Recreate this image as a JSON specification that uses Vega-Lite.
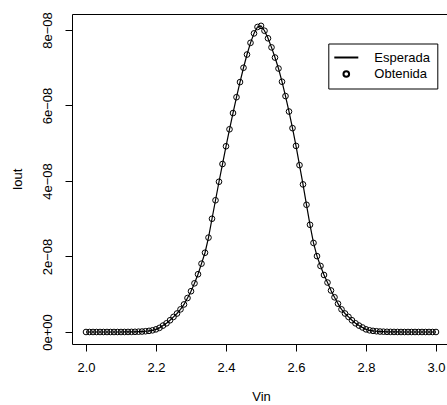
{
  "$schema": "https://vega.github.io/schema/vega-lite/v6.json",
  "width": 375,
  "height": 330,
  "autosize": "none",
  "padding": {"left": 72, "top": 14, "right": 0, "bottom": 61},
  "background": "white",
  "config": {
    "view": {"stroke": null},
    "font": "Liberation Sans",
    "axis": {
      "grid": false,
      "domainColor": "black",
      "domainWidth": 1,
      "tickColor": "black",
      "tickWidth": 1,
      "tickSize": 7,
      "labelColor": "black",
      "labelFont": "Liberation Sans",
      "labelFontSize": 13,
      "titleFont": "Liberation Sans",
      "titleFontSize": 13,
      "titleFontWeight": "normal",
      "titleColor": "black"
    },
    "legend": {
      "orient": "none",
      "legendX": 256.3,
      "legendY": 29.5,
      "strokeColor": "black",
      "fillColor": "white",
      "padding": 7,
      "labelFont": "Liberation Sans",
      "labelFontSize": 13,
      "labelColor": "black",
      "labelOffset": 21,
      "rowPadding": 2,
      "symbolOffset": 4,
      "symbolStrokeColor": "black",
      "symbolStrokeWidth": 2,
      "symbolFillColor": "transparent",
      "title": null
    }
  },
  "data": {
    "values": [
      {"Vin": 2.00, "Iout": 0}, {"Vin": 2.01, "Iout": 0}, {"Vin": 2.02, "Iout": 0}, {"Vin": 2.03, "Iout": 0},
      {"Vin": 2.04, "Iout": 0}, {"Vin": 2.05, "Iout": 0}, {"Vin": 2.06, "Iout": 0}, {"Vin": 2.07, "Iout": 0},
      {"Vin": 2.08, "Iout": 0}, {"Vin": 2.09, "Iout": 0}, {"Vin": 2.10, "Iout": 0}, {"Vin": 2.11, "Iout": 1e-11},
      {"Vin": 2.12, "Iout": 2e-11}, {"Vin": 2.13, "Iout": 3e-11}, {"Vin": 2.14, "Iout": 5e-11}, {"Vin": 2.15, "Iout": 8e-11},
      {"Vin": 2.16, "Iout": 1.2e-10}, {"Vin": 2.17, "Iout": 2e-10}, {"Vin": 2.18, "Iout": 3e-10}, {"Vin": 2.19, "Iout": 4.5e-10},
      {"Vin": 2.20, "Iout": 7e-10}, {"Vin": 2.21, "Iout": 1.1e-9}, {"Vin": 2.22, "Iout": 1.7e-9}, {"Vin": 2.23, "Iout": 2.3e-9},
      {"Vin": 2.24, "Iout": 3.1e-9}, {"Vin": 2.25, "Iout": 4.0e-9}, {"Vin": 2.26, "Iout": 4.9e-9}, {"Vin": 2.27, "Iout": 6.0e-9},
      {"Vin": 2.28, "Iout": 7.3e-9}, {"Vin": 2.29, "Iout": 9.0e-9}, {"Vin": 2.30, "Iout": 1.08e-8}, {"Vin": 2.31, "Iout": 1.29e-8},
      {"Vin": 2.32, "Iout": 1.53e-8}, {"Vin": 2.33, "Iout": 1.81e-8}, {"Vin": 2.34, "Iout": 2.10e-8}, {"Vin": 2.35, "Iout": 2.50e-8},
      {"Vin": 2.36, "Iout": 3.00e-8}, {"Vin": 2.37, "Iout": 3.49e-8}, {"Vin": 2.38, "Iout": 3.98e-8}, {"Vin": 2.39, "Iout": 4.45e-8},
      {"Vin": 2.40, "Iout": 4.92e-8}, {"Vin": 2.41, "Iout": 5.37e-8}, {"Vin": 2.42, "Iout": 5.80e-8}, {"Vin": 2.43, "Iout": 6.22e-8},
      {"Vin": 2.44, "Iout": 6.62e-8}, {"Vin": 2.45, "Iout": 7.00e-8}, {"Vin": 2.46, "Iout": 7.35e-8}, {"Vin": 2.47, "Iout": 7.66e-8},
      {"Vin": 2.48, "Iout": 7.91e-8}, {"Vin": 2.49, "Iout": 8.08e-8}, {"Vin": 2.50, "Iout": 8.11e-8}, {"Vin": 2.51, "Iout": 7.98e-8},
      {"Vin": 2.52, "Iout": 7.78e-8}, {"Vin": 2.53, "Iout": 7.54e-8}, {"Vin": 2.54, "Iout": 7.27e-8}, {"Vin": 2.55, "Iout": 6.98e-8},
      {"Vin": 2.56, "Iout": 6.63e-8}, {"Vin": 2.57, "Iout": 6.25e-8}, {"Vin": 2.58, "Iout": 5.84e-8}, {"Vin": 2.59, "Iout": 5.40e-8},
      {"Vin": 2.60, "Iout": 4.93e-8}, {"Vin": 2.61, "Iout": 4.42e-8}, {"Vin": 2.62, "Iout": 3.91e-8}, {"Vin": 2.63, "Iout": 3.37e-8},
      {"Vin": 2.64, "Iout": 2.84e-8}, {"Vin": 2.65, "Iout": 2.36e-8}, {"Vin": 2.66, "Iout": 2.01e-8}, {"Vin": 2.67, "Iout": 1.75e-8},
      {"Vin": 2.68, "Iout": 1.51e-8}, {"Vin": 2.69, "Iout": 1.31e-8}, {"Vin": 2.70, "Iout": 1.10e-8}, {"Vin": 2.71, "Iout": 9.2e-9},
      {"Vin": 2.72, "Iout": 7.5e-9}, {"Vin": 2.73, "Iout": 6.0e-9}, {"Vin": 2.74, "Iout": 4.9e-9}, {"Vin": 2.75, "Iout": 4.0e-9},
      {"Vin": 2.76, "Iout": 3.1e-9}, {"Vin": 2.77, "Iout": 2.3e-9}, {"Vin": 2.78, "Iout": 1.7e-9}, {"Vin": 2.79, "Iout": 1.2e-9},
      {"Vin": 2.80, "Iout": 7e-10}, {"Vin": 2.81, "Iout": 4.5e-10}, {"Vin": 2.82, "Iout": 3e-10}, {"Vin": 2.83, "Iout": 2e-10},
      {"Vin": 2.84, "Iout": 1.2e-10}, {"Vin": 2.85, "Iout": 8e-11}, {"Vin": 2.86, "Iout": 5e-11}, {"Vin": 2.87, "Iout": 3e-11},
      {"Vin": 2.88, "Iout": 2e-11}, {"Vin": 2.89, "Iout": 1e-11}, {"Vin": 2.90, "Iout": 0}, {"Vin": 2.91, "Iout": 0},
      {"Vin": 2.92, "Iout": 0}, {"Vin": 2.93, "Iout": 0}, {"Vin": 2.94, "Iout": 0}, {"Vin": 2.95, "Iout": 0},
      {"Vin": 2.96, "Iout": 0}, {"Vin": 2.97, "Iout": 0}, {"Vin": 2.98, "Iout": 0}, {"Vin": 2.99, "Iout": 0},
      {"Vin": 3.00, "Iout": 0}
    ]
  },
  "resolve": {"axis": {"x": "independent"}},
  "layer": [
    {
      "mark": {"type": "line", "color": "black", "strokeWidth": 1.2, "clip": true},
      "encoding": {
        "x": {
          "field": "Vin", "type": "quantitative",
          "scale": {"domain": [1.96, 3.0314286], "nice": false, "zero": false},
          "axis": {"orient": "top", "labels": false, "ticks": false, "title": null, "domain": true}
        },
        "y": {
          "field": "Iout", "type": "quantitative",
          "scale": {"domain": [-3.179e-9, 8.4238e-8], "nice": false, "zero": false},
          "axis": {
            "values": [0, 2e-8, 4e-8, 6e-8, 8e-8],
            "labelAngle": -90,
            "labelAlign": "center",
            "labelBaseline": "alphabetic",
            "labelPadding": 14,
            "labelExpr": "datum.value == 0 ? '0e+00' : replace(format(datum.value, '.0e'), 'e-', 'e−0')",
            "title": "Iout",
            "titleAngle": -90,
            "titleX": -55,
            "titleY": 165,
            "titleAlign": "center",
            "titleBaseline": "middle"
          }
        }
      }
    },
    {
      "mark": {"type": "point", "filled": false, "stroke": "black", "strokeWidth": 1, "opacity": 1, "clip": true},
      "encoding": {
        "x": {
          "field": "Vin", "type": "quantitative",
          "scale": {"domain": [1.96, 3.0314286], "nice": false, "zero": false},
          "axis": {
            "values": [2.0, 2.2, 2.4, 2.6, 2.8, 3.0],
            "format": ".1f",
            "labelPadding": 10,
            "labelFlush": false,
            "title": "Vin",
            "titleX": 189,
            "titleY": 52.7,
            "titleAlign": "center",
            "titleBaseline": "middle"
          }
        },
        "y": {"field": "Iout", "type": "quantitative"},
        "shape": {
          "datum": "Obtenida", "type": "nominal",
          "scale": {"domain": ["Esperada", "Obtenida"], "range": ["M-2,0H2", "circle"]}
        },
        "size": {
          "datum": "Obtenida", "type": "nominal",
          "scale": {"type": "ordinal", "domain": ["Esperada", "Obtenida"], "range": [144, 32]}
        }
      }
    }
  ]
}
